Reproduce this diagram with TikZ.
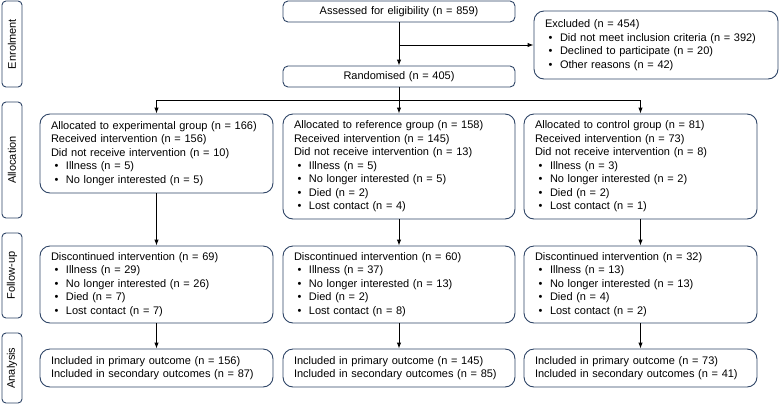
\documentclass[tikz,border=0pt]{standalone}
\usepackage{fontspec}
\setmainfont{Liberation Sans}
\usepackage{tikz}
\usetikzlibrary{arrows.meta}
\definecolor{boxline}{HTML}{2E4466}
\newcommand{\bul}{\makebox[15pt][l]{\hspace{3.5pt}\textbullet}}

\begin{document}
\begin{tikzpicture}[x=1pt,y=-1pt,
    >={Latex[length=6pt,width=4.5pt]},
    font=\fontsize{11}{13.5}\selectfont]

    \useasboundingbox (0,0) rectangle (779,405);

    % stage labels on the left
    \begin{scope}[every node/.style={draw=boxline,line width=0.9pt,rounded corners=4pt,
                  minimum height=20pt,inner sep=0pt,rotate=90}]
    \node[minimum width=86pt] (sEnrol) at (12,44) {Enrolment};
    \node[minimum width=116pt] (sAlloc) at (12,160) {Allocation};
    \node[minimum width=85pt] (sFollow) at (12,275.5) {Follow-up};
    \node[minimum width=70pt] (sAnal) at (12,368) {Analysis};
    \end{scope}

    % enrolment boxes
    \begin{scope}[every node/.style={draw=boxline,line width=0.9pt,rounded corners=5pt,
                  inner xsep=11pt,inner ysep=0pt,align=center,text width=210pt,minimum height=21pt}]
    \node (assess) at (399,11.5) {Assessed for eligibility (n = 859)};
    \node (rand) at (399,76.5) {Randomised (n = 405)};
    \end{scope}

    % flow boxes
    \begin{scope}[every node/.style={draw=boxline,line width=0.9pt,rounded corners=10pt,
                  inner xsep=11pt,inner ysep=0pt,align=left,text width=211pt}]
    \node[text width=222pt,minimum height=68pt] (excl) at (656,45)
        {Excluded (n = 454)\\
         \bul Did not meet inclusion criteria (n = 392)\\
         \bul Declined to participate (n = 20)\\
         \bul Other reasons (n = 42)};

    % allocation
    \node[minimum height=79pt] (exp) at (156.5,153.5)
        {Allocated to experimental group (n = 166)\\
         Received intervention (n = 156)\\
         Did not receive intervention (n = 10)\\
         \bul Illness (n = 5)\\
         \bul No longer interested (n = 5)};
    \node[text width=210pt,minimum height=105pt] (ref) at (399,166.5)
        {Allocated to reference group (n = 158)\\
         Received intervention (n = 145)\\
         Did not receive intervention (n = 13)\\
         \bul Illness (n = 5)\\
         \bul No longer interested (n = 5)\\
         \bul Died (n = 2)\\
         \bul Lost contact (n = 4)};
    \node[minimum height=105pt] (ctl) at (640.5,166.5)
        {Allocated to control group (n = 81)\\
         Received intervention (n = 73)\\
         Did not receive intervention (n = 8)\\
         \bul Illness (n = 3)\\
         \bul No longer interested (n = 2)\\
         \bul Died (n = 2)\\
         \bul Lost contact (n = 1)};

    % follow-up
    \node[minimum height=77pt] (fexp) at (156.5,284.5)
        {Discontinued intervention (n = 69)\\
         \bul Illness (n = 29)\\
         \bul No longer interested (n = 26)\\
         \bul Died (n = 7)\\
         \bul Lost contact (n = 7)};
    \node[text width=210pt,minimum height=77pt] (fref) at (399,284.5)
        {Discontinued intervention (n = 60)\\
         \bul Illness (n = 37)\\
         \bul No longer interested (n = 13)\\
         \bul Died (n = 2)\\
         \bul Lost contact (n = 8)};
    \node[minimum height=77pt] (fctl) at (640.5,284.5)
        {Discontinued intervention (n = 32)\\
         \bul Illness (n = 13)\\
         \bul No longer interested (n = 13)\\
         \bul Died (n = 4)\\
         \bul Lost contact (n = 2)};

    % analysis
    \node[minimum height=38pt] (aexp) at (156.5,368)
        {Included in primary outcome (n = 156)\\
         Included in secondary outcomes (n = 87)};
    \node[text width=210pt,minimum height=38pt] (aref) at (399,368)
        {Included in primary outcome (n = 145)\\
         Included in secondary outcomes (n = 85)};
    \node[minimum height=38pt] (actl) at (640.5,368)
        {Included in primary outcome (n = 73)\\
         Included in secondary outcomes (n = 41)};
    \end{scope}

    % connectors
    \coordinate (fork) at (399,100);
    \begin{scope}[line width=1pt]
    \draw[->] (assess.south) -- (rand.north);
    \draw[->] (assess.south |- excl.west) -- (excl.west);
    \draw (rand.south) -- (fork);
    \draw[->] (fork) -| (exp.north);
    \draw[->] (fork) -- (ref.north);
    \draw[->] (fork) -| (ctl.north);

    \draw[->] (exp) -- (fexp);
    \draw[->] (ref) -- (fref);
    \draw[->] (ctl) -- (fctl);

    \draw[->] (fexp) -- (aexp);
    \draw[->] (fref) -- (aref);
    \draw[->] (fctl) -- (actl);
    \end{scope}

\end{tikzpicture}
\end{document}
